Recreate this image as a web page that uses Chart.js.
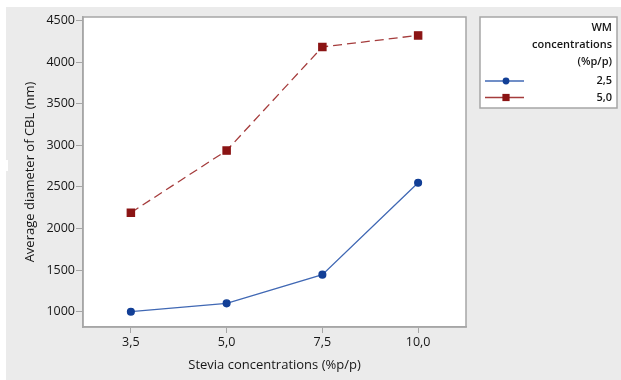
<!DOCTYPE html>
<html>
<head>
<meta charset="utf-8">
<script src="https://cdn.jsdelivr.net/npm/chart.js@4"></script>
<style>
  html, body { margin: 0; padding: 0; background: #ffffff; }
  #wrap { position: absolute; left: 6px; top: 7px; width: 615px; height: 373px; background: #ebebeb; }
  #notch { position: absolute; left: 0; top: 160px; width: 8px; height: 11px; background: #ffffff; }
</style>
</head>
<body>
<div id="wrap"><canvas id="lineChart" width="615" height="373"></canvas></div>
<div id="notch"></div>
<script>
// Stevia concentrations on the x axis
const categories = ['3,5', '5,0', '7,5', '10,0'];
// average diameter for each WM concentration
const wm25 = [1000, 1100, 1445, 2550];
const wm50 = [2190, 2937, 4182, 4321];
const yTicks = [1000, 1500, 2000, 2500, 3000, 3500, 4000, 4500];
const legendTitle = ['WM', 'concentrations', '(%p/p)'];

const fontFam = "'Open Sans', sans-serif";
const textCol = '#161616';

// white plot area + frame
const plotFrame = {
  id: 'plotFrame',
  beforeDraw(chart) {
    const {ctx, chartArea: a} = chart;
    ctx.save();
    ctx.fillStyle = '#ffffff';
    ctx.fillRect(a.left, a.top, a.right - a.left, a.bottom - a.top);
    ctx.restore();
  },
  afterDraw(chart) {
    const {ctx, chartArea: a} = chart;
    ctx.save();
    ctx.strokeStyle = '#a6a6a6';
    ctx.lineWidth = 1.5;
    ctx.strokeRect(a.left, a.top, a.right - a.left, a.bottom - a.top);
    ctx.restore();
  }
};

// legend box on the right like minitab
const sideLegend = {
  id: 'sideLegend',
  afterDraw(chart) {
    const ctx = chart.ctx;
    const x0 = 474, y0 = 10, w = 137, h = 91;
    ctx.save();
    ctx.fillStyle = '#ffffff';
    ctx.fillRect(x0, y0, w, h);
    ctx.strokeStyle = '#a6a6a6';
    ctx.lineWidth = 1.5;
    ctx.strokeRect(x0, y0, w, h);

    ctx.fillStyle = textCol;
    ctx.font = "600 11px " + fontFam;
    ctx.textAlign = 'right';
    ctx.textBaseline = 'middle';
    legendTitle.forEach((t, i) => ctx.fillText(t, 606, 21 + i * 17));

    chart.data.datasets.forEach((ds, i) => {
      const y = 74 + i * 16.5;
      ctx.strokeStyle = ds.borderColor;
      ctx.lineWidth = 1.5;
      ctx.setLineDash([]);
      ctx.beginPath();
      ctx.moveTo(479, y);
      ctx.lineTo(518, y);
      ctx.stroke();
      ctx.fillStyle = ds.pointBackgroundColor;
      Chart.helpers.drawPoint(ctx, {pointStyle: ds.pointStyle, radius: ds.pointRadius, rotation: 0}, 500, y);
      ctx.fillStyle = textCol;
      ctx.font = "600 11px " + fontFam;
      ctx.fillText(ds.label, 606, y);
    });
    ctx.restore();
  }
};

const lineChart = new Chart(document.getElementById('lineChart'), {
  type: 'line',
  data: {
    labels: categories,
    datasets: [
      {
        label: '2,5',
        data: wm25,
        borderColor: '#4068b4',
        borderWidth: 1.3,
        pointStyle: 'circle',
        pointRadius: 3.4,
        pointBackgroundColor: '#123f96',
        pointBorderColor: '#123f96',
        tension: 0
      },
      {
        label: '5,0',
        data: wm50,
        borderColor: '#a53c3c',
        borderWidth: 1.3,
        borderDash: [9, 5],
        pointStyle: 'rect',
        pointRadius: 5.1,
        pointBackgroundColor: '#8b1414',
        pointBorderColor: '#8b1414',
        tension: 0
      }
    ]
  },
  options: {
    responsive: false,
    animation: false,
    layout: { padding: { left: 0, top: 10, right: 155, bottom: 0 } },
    plugins: {
      legend: { display: false },
      tooltip: { enabled: false }
    },
    scales: {
      x: {
        offset: true,
        grid: { drawOnChartArea: false, drawTicks: true, tickLength: 6, color: '#a6a6a6', offset: false },
        border: { display: true, color: '#a6a6a6', width: 1.5 },
        ticks: { color: textCol, padding: 2, font: { family: fontFam, size: 12.5 } },
        title: {
          display: true,
          text: 'Stevia concentrations (%p/p)',
          color: textCol,
          padding: { top: 0, bottom: 7 },
          font: { family: fontFam, size: 13 }
        },
        afterFit(scale) { scale.height = 53; }
      },
      y: {
        min: 816,
        max: 4542,
        afterBuildTicks(scale) { scale.ticks = yTicks.map(v => ({ value: v })); },
        grid: { drawOnChartArea: false, drawTicks: true, tickLength: 7, color: '#a6a6a6' },
        border: { display: true, color: '#a6a6a6', width: 1.5 },
        ticks: {
          color: textCol,
          padding: 1,
          font: { family: fontFam, size: 12.5 },
          callback: (v) => String(v)
        },
        title: {
          display: true,
          text: 'Average diameter of CBL (nm)',
          color: textCol,
          padding: { top: 16, bottom: 0 },
          font: { family: fontFam, size: 13 }
        },
        afterFit(scale) { scale.width = 77; }
      }
    }
  },
  plugins: [plotFrame, sideLegend]
});
</script>
</body>
</html>
